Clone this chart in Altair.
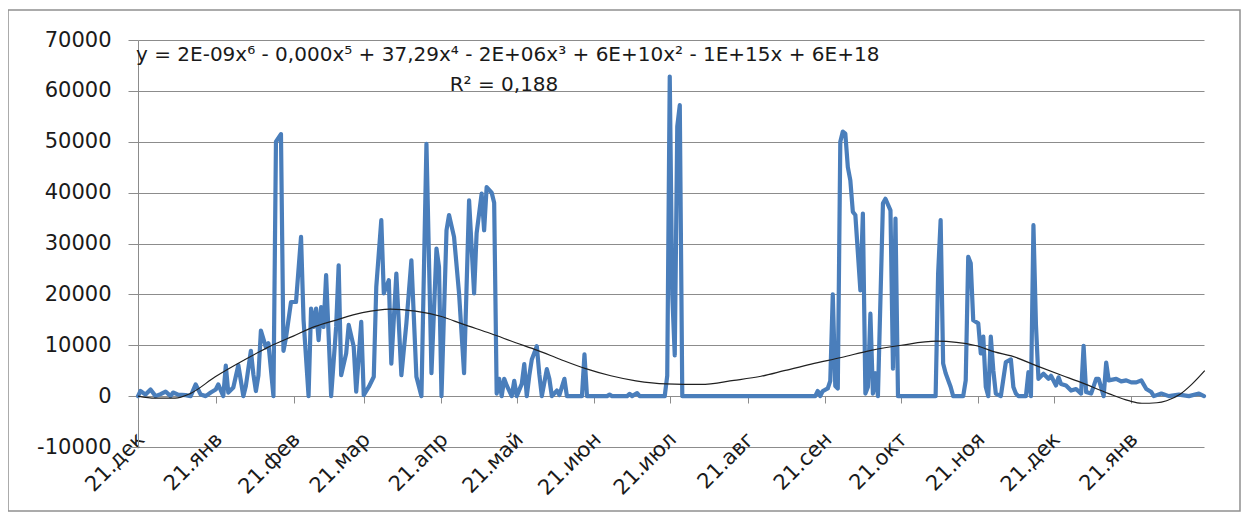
import json
import altair as alt
import pandas as pd

# ---------------- data ----------------
START = "2020-12-21"
END_DAY = 425
MONTHS = ['янв', 'фев', 'мар', 'апр', 'май', 'июн', 'июл', 'авг', 'сен', 'окт', 'ноя', 'дек']
TICK_DAYS = [0, 31, 62, 90, 121, 151, 182, 212, 243, 274, 304, 335, 365, 396]
Y_TICKS = [-10000, 0, 10000, 20000, 30000, 40000, 50000, 60000, 70000]

day_idx = [0, 1, 3, 5, 7, 9, 11, 13, 14, 16, 19, 21, 23, 25, 27, 29, 31, 32, 34, 35, 36, 38, 40, 42, 43,
           45, 46, 47, 48, 49, 51, 52, 54, 55, 57, 58, 59, 61, 63, 65, 66, 68,
           69, 70, 71, 72, 73, 74, 75, 77, 79, 80, 81, 83, 84, 86, 87, 89, 90, 92, 94, 95, 97, 98, 100,
           101, 103, 105, 107, 109, 111, 113, 115, 117, 119, 120, 121, 123, 124, 126, 128, 130, 132,
           134, 135, 137, 138, 139, 141, 142, 143, 144, 145, 146, 147, 149, 150, 151, 153, 154, 155,
           156, 157, 159, 160, 161, 163, 164, 165, 167, 168, 170, 171, 177, 178, 179, 187, 188, 189,
           195, 196, 197, 199, 200, 210, 211, 212, 213, 214, 215, 216, 217, 270, 271, 272, 273, 275,
           276, 277, 278, 279, 280, 281, 282, 283, 284, 285, 286, 288, 289, 290, 291, 292, 293, 294,
           295, 297, 298, 300, 301, 302, 303, 318, 319, 320, 321, 322, 324, 325, 329, 330, 331, 332,
           333, 335, 336, 337, 338, 339, 340, 341, 342, 344, 346, 348, 349, 350, 351, 354, 355, 356,
           357, 358, 359, 361, 363, 364, 366, 367, 368, 370, 372, 374, 376, 377, 378, 380, 382, 383,
           385, 386, 387, 390, 392, 394, 396, 398, 400, 402, 404, 405, 408, 411, 415, 419, 423, 425]
counts = [0, 1000, 300, 1300, 0, 400, 900, 0, 700, 300, 200, 0, 2300, 300, 0, 700, 1300, 2300, 0, 6000,
          700, 1700, 6100, 0, 2000, 8900, 4300, 1000, 4000, 12900, 9600, 10400, 0, 50000, 51500, 8900,
          11500, 18500, 18500, 31300, 15000, 0,
          17200, 13600, 17200, 11000, 17500, 13600, 23800, 0, 13600, 25700, 4100, 8400, 14000, 9700,
          900, 14600, 200, 1800, 3800, 21500, 34600, 20200, 22800,
          6400, 24100, 4100, 14300, 26700, 3800, 0, 49600, 4500, 29000, 25400, 0, 32600, 35600, 31300,
          20200, 4500, 38500,
          20200, 32000, 39800, 32600, 41100, 40000, 38000, 500, 3400, 0, 3400, 2100, 0, 3000, 0, 2400,
          6300, 0,
          4000, 7200, 9800, 4300, 0, 5300, 3400, 0, 1100, 200, 3400, 0, 0, 8200, 0, 0, 300, 0,
          0, 450, 0, 600, 0, 0, 4000, 62800, 20000, 8000, 53000, 57200, 0, 0, 1000, 0, 1000, 1500,
          3000, 20000, 2000, 1500, 50000, 52000, 51600, 45000, 42400, 36200, 35600, 20800, 35900, 500,
          1800, 16200, 500, 4500,
          0, 37900, 38800, 36500, 5400, 34900, 0, 0, 24100, 34600, 6400, 4500, 1800, 0, 0, 3100,
          27400, 26100,
          14900, 14300, 8400, 11700, 1800, 0, 11700, 5100, 500, 0, 6700, 7200, 1800, 500, 0, 0, 4700, 0,
          33600, 14000, 3400, 4400, 3400, 4000, 2100, 3700, 2400, 2100, 1100, 1400, 500, 9900, 800,
          500, 3400, 3400,
          0, 6600, 3100, 3400, 2900, 3100, 2700, 2700, 3100, 1400, 800, 0, 500, 0, 300, 0, 500, 0]

trend_day = [0, 6.8, 14.8, 20.8, 30.8, 42.7, 52.7, 61.9, 70.7, 77.9, 89.5, 100.6, 110.6, 120.6, 129.8,
             140.6, 150.6, 159.3, 168.5, 178.5, 188.5, 198.5, 210.5, 224.4, 237.6, 248.4, 257.6, 268.4,
             280.4, 292.3, 304.3, 318.3, 334.3, 341.5, 348.2, 358.6, 368.2, 375.4, 387, 395, 400.2,
             406.2, 410.1, 415.3, 420.1, 425.3]
trend_val = [0, -400, -400, 500, 3800, 7200, 9800, 11800, 13700, 14800, 16400, 17100, 16700, 15700, 14100,
             12300, 10500, 9000, 7200, 5400, 4000, 3000, 2400, 2300, 3100, 3900, 5000, 6300,
             7600, 9000, 10000, 10800, 9900, 8700, 7900, 5900, 4100, 2800, 500, -900, -1400,
             -1300, -900, 300, 2300, 5000]

EQUATION = "y = 2E-09x\u2076 - 0,000x\u2075 + 37,29x\u2074 - 2E+06x\u00b3 + 6E+10x\u00b2 - 1E+15x + 6E+18"
R2_TEXT = "R\u00b2 = 0,188"

# ---------------- build ----------------
start = pd.Timestamp(START)


def iso(d):
    return (start + pd.Timedelta(days=d)).strftime("%Y-%m-%dT%H:%M:%SZ")


def dt(d):
    t = start + pd.Timedelta(days=d)
    return alt.DateTime(year=t.year, month=t.month, date=t.day, utc=True)


df = pd.DataFrame({"date": [iso(d) for d in day_idx], "value": counts})
tdf = pd.DataFrame({"date": [iso(d) for d in trend_day], "value": trend_val})

FONT = "DejaVu Sans"
GRID = "#8c8c8c"
TXT = "#1a1a1a"

x_scale = alt.Scale(type="utc", domain=[dt(0), dt(END_DAY)])
y_scale = alt.Scale(domain=[Y_TICKS[0], Y_TICKS[-1]], nice=False, zero=False)

month_arr = json.dumps(MONTHS, ensure_ascii=False)
x_axis = alt.Axis(
    values=[dt(d) for d in TICK_DAYS],
    labelExpr="utcFormat(datum.value, '%d') + '.' + " + month_arr + "[utcmonth(datum.value)]",
    labelAngle=-45, labelAlign="right", labelBaseline="middle",
    labelPadding=33, labelOffset=3, tickSize=7, offset=-51, grid=False,
    domainColor=GRID, tickColor=GRID, labelFont=FONT, labelFontSize=21,
    labelColor=TXT, labelOverlap=False, labelBound=False, labelFlush=False, title=None,
)
y_axis = alt.Axis(
    values=Y_TICKS, labelExpr="'' + datum.value", grid=True, gridColor=GRID, gridWidth=1,
    domainColor=GRID, tickColor=GRID, tickSize=10, labelPadding=17, labelFont=FONT,
    labelFontSize=21, labelColor=TXT, title=None,
)

frame = alt.Chart(pd.DataFrame({"a": [0]})).mark_rect(
    fillOpacity=0, stroke="#909090", strokeWidth=1.5
).encode(x=alt.value(-130), x2=alt.value(1102), y=alt.value(-30), y2=alt.value(471))

line = alt.Chart(df).mark_line(
    color="#4A7EBB", strokeWidth=4.2, strokeJoin="round", strokeCap="round"
).encode(
    x=alt.X("date:T", scale=x_scale, axis=x_axis),
    y=alt.Y("value:Q", scale=y_scale, axis=y_axis),
)

trend = alt.Chart(tdf).mark_line(
    color="#202020", strokeWidth=1.2, interpolate="monotone"
).encode(x="date:T", y="value:Q")

eq = alt.Chart(pd.DataFrame({"t": [EQUATION]})).mark_text(
    align="left", baseline="alphabetic", font=FONT, fontSize=20, color=TXT
).encode(x=alt.value(-2), y=alt.value(21), text="t:N")

r2 = alt.Chart(pd.DataFrame({"t": [R2_TEXT]})).mark_text(
    align="center", baseline="alphabetic", font=FONT, fontSize=20, color=TXT
).encode(x=alt.value(366), y=alt.value(51), text="t:N")

chart = alt.layer(frame, line, trend, eq, r2).properties(
    width=1066, height=407,
    autosize=alt.AutoSizeParams(type="none"),
    padding={"left": 130, "top": 32, "right": 44, "bottom": 66},
).configure_view(stroke="transparent")

chart.save("out.html", embed_options={"renderer": "svg", "actions": False})
